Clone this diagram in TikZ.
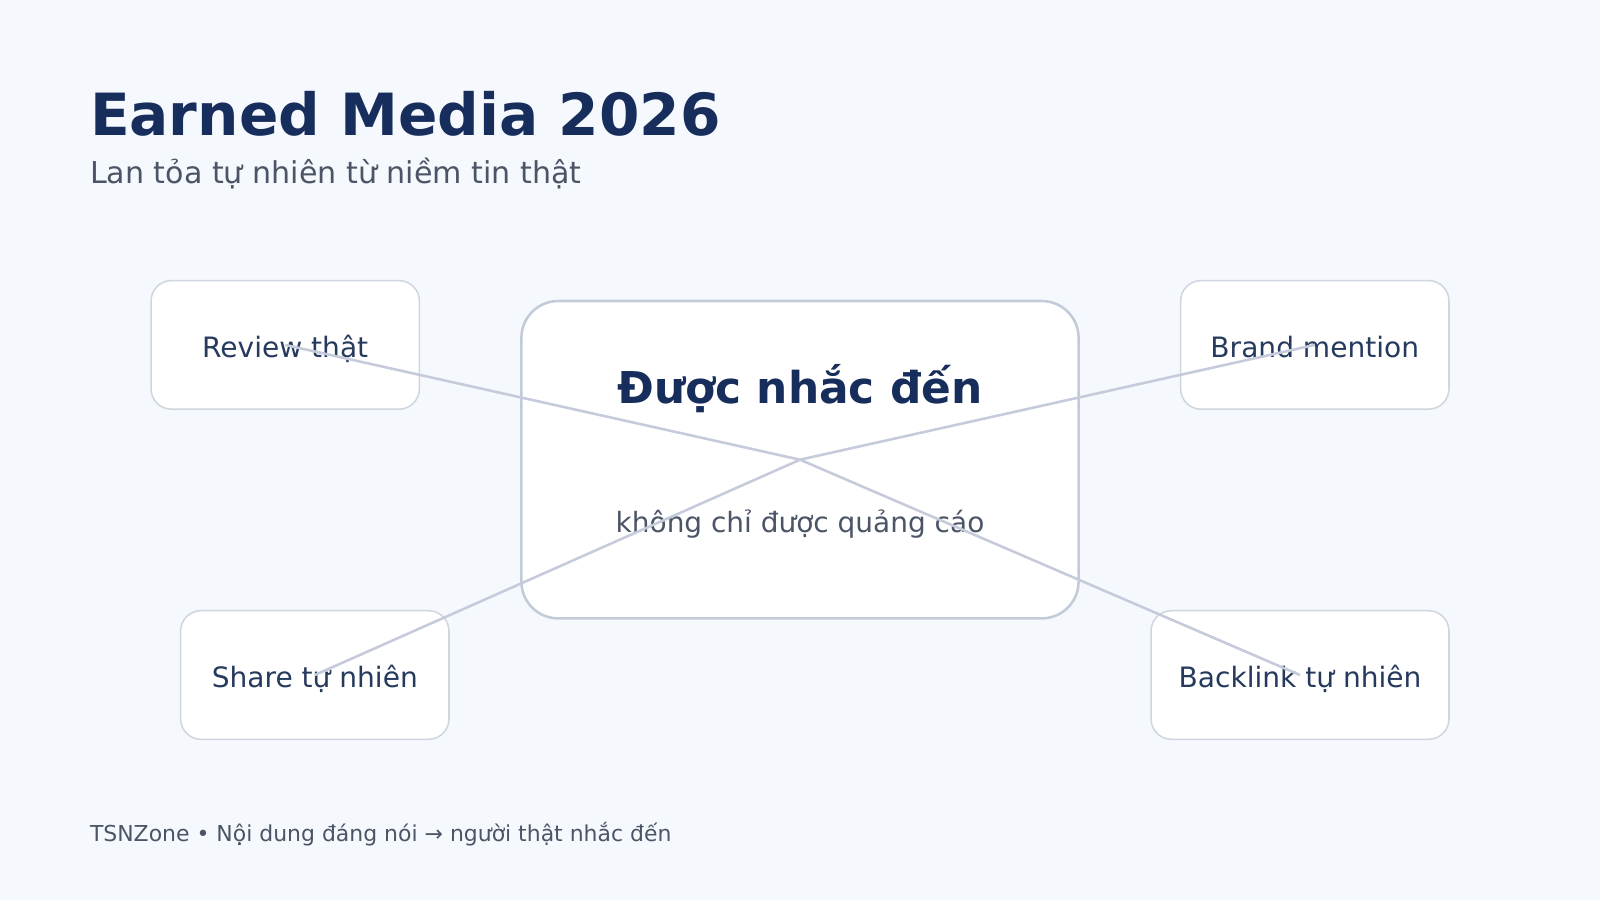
\documentclass[tikz,border=0pt]{standalone}
\usepackage{fontspec}
\setmainfont{DejaVu Sans}
\usetikzlibrary{positioning}

\definecolor{bgpale}{HTML}{F5F9FD}
\definecolor{navy}{HTML}{172D5C}
\definecolor{slate}{HTML}{4B5566}
\definecolor{inkblue}{HTML}{263A5E}
\definecolor{boxline}{HTML}{D0D6DF}
\definecolor{hubline}{HTML}{C3CBD8}
\definecolor{linkline}{HTML}{C5CBDA}

\begin{document}
\begin{tikzpicture}[x=1pt,y=-1pt]

\tikzset{leaf/.style={draw=boxline,line width=1.5pt,fill=white,rounded corners=20pt,
  minimum width=263pt,minimum height=126pt,text=inkblue,
  text height=24pt,text depth=0pt,
  font=\fontsize{27.5}{32}\selectfont}}
\tikzset{hub/.style={draw=hubline,line width=2.5pt,fill=white,rounded corners=36pt,
  minimum width=546pt,minimum height=311pt}}
\tikzset{link/.style={draw=linkline,line width=2.5pt}}

%background
\fill[bgpale] (0,0) rectangle (1568,882);
\useasboundingbox (0,0) rectangle (1568,882);

%title
\node [anchor=base west,text=navy,inner sep=0pt] (title) at (88,133)
  {\fontsize{57}{62}\selectfont\bfseries Earned Media 2026};
\node [anchor=base west,text=slate,inner sep=0pt] (subtitle) at (88,180)
  {\fontsize{29.5}{34}\selectfont Lan tỏa tự nhiên từ niềm tin thật};

%center box
\node [hub] (mention) at (784,450.5) {};
\node [anchor=center,text=navy] (mentiontitle) at (784,381)
  {\fontsize{43}{48}\selectfont\bfseries Được nhắc đến};
\node [anchor=center,text=slate] (mentionsub) at (784,514)
  {\fontsize{27.4}{32}\selectfont không chỉ được quảng cáo};

%small boxes
\node [leaf] (review) at (279.5,338) {Review thật};
\node [leaf] (brand) at (1288.5,338) {Brand mention};
\node [leaf] (share) at (308.5,661.5) {Share tự nhiên};
\node [leaf,minimum width=292pt] (backlink) at (1274,661.5) {Backlink tự nhiên};

%links
\draw[link] (mention.center)--(review.center);
\draw[link] (mention.center)--(brand.center);
\draw[link] (mention.center)--(share.center);
\draw[link] (mention.center)--(backlink.center);

%footer
\node [anchor=base west,text=slate,inner sep=0pt] (footer) at (88,825)
  {\fontsize{21.5}{26}\selectfont TSNZone • Nội dung đáng nói → người thật nhắc đến};

\end{tikzpicture}
\end{document}
